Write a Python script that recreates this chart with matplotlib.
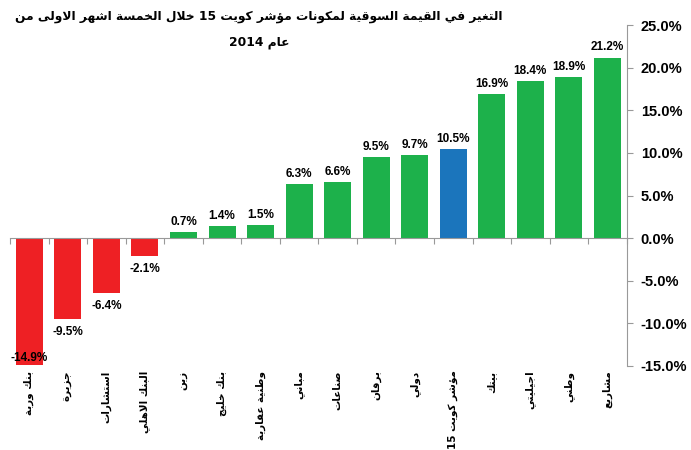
import re
import matplotlib
matplotlib.use('Agg')
import matplotlib.pyplot as plt
from matplotlib.ticker import FuncFormatter

# البيانات
labels = ['بنك وربة', 'جزيرة', 'استشارات', 'البنك الاهلي', 'زين', 'بنك خليج',
          'وطنية عقارية', 'مباني', 'صناعات', 'برقان', 'دولي', 'مؤشر كويت 15',
          'بيتك', 'اجيليتي', 'وطني', 'مشاريع']
values = [-14.9, -9.5, -6.4, -2.1, 0.7, 1.4, 1.5, 6.3, 6.6, 9.5, 9.7, 10.5,
          16.9, 18.4, 18.9, 21.2]
index_label = 'مؤشر كويت 15'
title_lines = ['التغير في القيمة السوقية لمكونات مؤشر كويت 15 خلال الخمسة اشهر الاولى من',
               'عام 2014']

RED = '#EE2024'
GREEN = '#1DB14B'
BLUE = '#1B75BC'

# تشكيل الحروف العربية يدويا (لا يوجد محرك تشكيل في matplotlib)
FORMS = {
    'ء': (0xFE80, 1), 'آ': (0xFE81, 2), 'أ': (0xFE83, 2), 'ؤ': (0xFE85, 2),
    'إ': (0xFE87, 2), 'ئ': (0xFE89, 4), 'ا': (0xFE8D, 2), 'ب': (0xFE8F, 4),
    'ة': (0xFE93, 2), 'ت': (0xFE95, 4), 'ث': (0xFE99, 4), 'ج': (0xFE9D, 4),
    'ح': (0xFEA1, 4), 'خ': (0xFEA5, 4), 'د': (0xFEA9, 2), 'ذ': (0xFEAB, 2),
    'ر': (0xFEAD, 2), 'ز': (0xFEAF, 2), 'س': (0xFEB1, 4), 'ش': (0xFEB5, 4),
    'ص': (0xFEB9, 4), 'ض': (0xFEBD, 4), 'ط': (0xFEC1, 4), 'ظ': (0xFEC5, 4),
    'ع': (0xFEC9, 4), 'غ': (0xFECD, 4), 'ف': (0xFED1, 4), 'ق': (0xFED5, 4),
    'ك': (0xFED9, 4), 'ل': (0xFEDD, 4), 'م': (0xFEE1, 4), 'ن': (0xFEE5, 4),
    'ه': (0xFEE9, 4), 'و': (0xFEED, 2), 'ى': (0xFEEF, 2), 'ي': (0xFEF1, 4),
}
LAMALEF = {'آ': 0xFEF5, 'أ': 0xFEF7, 'إ': 0xFEF9, 'ا': 0xFEFB}


def shape(s):
    tokens = []
    i = 0
    while i < len(s):
        if s[i] == 'ل' and i + 1 < len(s) and s[i + 1] in LAMALEF:
            tokens.append(('LA', s[i + 1]))
            i += 2
        else:
            tokens.append(s[i])
            i += 1

    def joins_next(t):
        return not isinstance(t, tuple) and t in FORMS and FORMS[t][1] == 4

    def joins_prev(t):
        return isinstance(t, tuple) or (t in FORMS and FORMS[t][1] > 1)

    res = []
    for k, t in enumerate(tokens):
        prev = tokens[k - 1] if k > 0 else None
        nxt = tokens[k + 1] if k + 1 < len(tokens) else None
        pj = prev is not None and joins_next(prev)
        if isinstance(t, tuple):
            res.append(chr(LAMALEF[t[1]] + (1 if pj else 0)))
            continue
        if t not in FORMS:
            res.append(t)
            continue
        base, nf = FORMS[t]
        nj = nf == 4 and nxt is not None and joins_prev(nxt)
        if nf == 1:
            form = 0
        elif nf == 2:
            form = 1 if pj else 0
        else:
            form = {(False, False): 0, (True, False): 1,
                    (False, True): 2, (True, True): 3}[(pj, nj)]
        res.append(chr(base + form))
    return ''.join(res)


def visual(s):
    r = shape(s)[::-1]
    return re.sub(r'[0-9.%]+', lambda m: m.group(0)[::-1], r)


ARABIC = ['DejaVu Sans Condensed', 'DejaVu Sans']
plt.rcParams['font.family'] = ['Liberation Sans', 'DejaVu Sans']
plt.rcParams['font.weight'] = 'bold'

fig = plt.figure(figsize=(6.91, 4.5), dpi=100)
ax = fig.add_axes([0.0145, 0.187, 0.8925, 0.757])

x = list(range(len(values)))
colors = []
for lab, v in zip(labels, values):
    if lab == index_label:
        colors.append(BLUE)
    elif v < 0:
        colors.append(RED)
    else:
        colors.append(GREEN)

ax.bar(x, values, width=0.7, color=colors, zorder=2)

ax.set_xlim(-0.5, len(values) - 0.5)
ax.set_ylim(-15, 25)

# محور القيم على اليمين
ax.yaxis.tick_right()
ax.set_yticks(range(-15, 26, 5))
ax.yaxis.set_major_formatter(FuncFormatter(lambda v, p: f'{v:.1f}%'))
ax.tick_params(axis='y', length=4, width=0.8, color='#999999', pad=6, labelsize=10.5)
for lbl in ax.get_yticklabels():
    lbl.set_fontweight('bold')

for side in ['top', 'left']:
    ax.spines[side].set_visible(False)
ax.spines['right'].set_color('#999999')
ax.spines['bottom'].set_position(('data', 0))
ax.spines['bottom'].set_color('#999999')

# علامات الفئات على خط الصفر
ax.set_xticks([i - 0.5 for i in range(len(values) + 1)])
ax.set_xticklabels([])
ax.tick_params(axis='x', length=4, width=0.8, color='#999999', direction='out')

# أسماء الشركات أسفل الرسم
for i, lab in enumerate(labels):
    ax.text(i, -0.014, visual(lab), transform=ax.get_xaxis_transform(),
            rotation=90, ha='center', va='top', fontsize=7.5, fontweight='bold',
            family=ARABIC)

# قيم الأعمدة
for i, v in enumerate(values):
    txt = f'{v:.1f}%'
    if v >= 0:
        ax.annotate(txt, (i, v), xytext=(0, 3), textcoords='offset points',
                    ha='center', va='bottom', fontsize=8.5, fontweight='bold')
    elif v < -13:
        ax.annotate(txt, (i, v), xytext=(0, 1), textcoords='offset points',
                    ha='center', va='bottom', fontsize=8.5, fontweight='bold')
    else:
        ax.annotate(txt, (i, v), xytext=(0, -5), textcoords='offset points',
                    ha='center', va='top', fontsize=8.5, fontweight='bold')

title = '\n'.join(visual(t) for t in title_lines)
fig.text(0.375, 0.978, title, ha='center', va='top', fontsize=8.8,
         fontweight='bold', multialignment='center', linespacing=2.3,
         family=ARABIC)

fig.savefig('out.png', dpi=100)
